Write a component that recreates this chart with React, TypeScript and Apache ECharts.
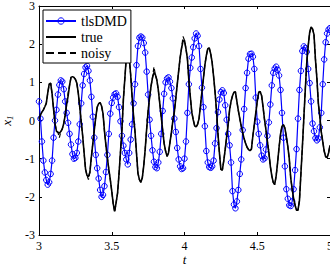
import React, { useEffect, useRef } from "react";
import * as echarts from "echarts";

const T_START = 3;
const T_STEP = 0.01;

const tlsDMD = [
  0.5, 0.05, -0.55, -1.05, -1.36, -1.56, -1.68, -1.62, -1.4, -1.05,
  -0.45, 0.0, 0.28, 0.68, 0.93, 1.05, 1.02, 0.82, 0.5, 0.2,
  -0.06, -0.35, -0.63, -0.88, -1.0, -0.98, -0.85, -0.55, -0.1, 0.45,
  0.92, 1.22, 1.39, 1.43, 1.3, 1.05, 0.62, 0.1, -0.45, -0.9,
  -1.25, -1.52, -1.82, -2.0, -1.95, -1.72, -1.35, -0.9, -0.35, 0.18,
  0.46, 0.6, 0.69, 0.71, 0.62, 0.35, -0.02, -0.4, -0.66, -0.85,
  -1.02, -1.15, -0.85, -0.5, -0.1, 0.45, 0.95, 1.45, 1.95, 2.17,
  2.2, 2.17, 2.03, 1.78, 1.28, 0.68, 0.02, -0.4, -0.78, -1.08,
  -1.22, -1.25, -1.1, -0.82, -0.35, 0.25, 0.7, 1.0, 1.1, 1.13,
  1.02, 0.85, 0.58, 0.05, -0.3, -0.72, -1.02, -1.2, -1.27, -1.25,
  -1.0, -0.55, 0.2, 0.95, 1.38, 1.65, 1.92, 2.15, 2.28, 2.22,
  1.95, 1.35, 0.86, 0.35, -0.15, -0.8, -1.1, -1.22, -1.24, -1.2,
  -1.05, -0.6, -0.2, 0.22, 0.55, 0.74, 0.79, 0.72, 0.4, 0.02,
  -0.35, -0.65, -1.1, -1.85, -2.2, -2.3, -2.12, -1.82, -1.4, -1.02,
  -0.25, 0.3, 0.85, 1.25, 1.62, 1.74, 1.75, 1.67, 1.35, 0.6,
  -0.03, -0.35, -0.65, -0.92, -1.02, -0.99, -0.76, -0.4, -0.05, 0.42,
  0.92, 1.25, 1.36, 1.41, 1.33, 1.18, 0.8, 0.2, -0.45, -1.2,
  -1.8, -2.05, -2.22, -2.24, -2.12, -1.8, -1.3, -0.75, 0.05, 0.8,
  1.3, 1.82, 1.94, 1.9, 1.8, 1.35, 0.98, 0.5, -0.08, -0.28,
  -0.46, -0.52, -0.47, -0.18, 0.2, 0.95, 1.6, 2.05, 2.28, 2.38,
  2.42,
];

const trueVals = [
  0.05, 0.15, 0.22, 0.28, 0.36, 0.45, 0.72, 0.95, 0.98, 0.7,
  0.3, -0.08, -0.28, -0.31, -0.33, -0.29, -0.22, -0.08, 0.14, 0.42,
  0.64, 0.92, 1.13, 1.15, 1.13, 1.08, 0.98, 0.72, 0.35, -0.02,
  -0.4, -0.85, -1.28, -1.44, -1.47, -1.35, -0.95, -0.6, -0.25, 0.08,
  0.35, 0.44, 0.47, 0.38, 0.18, -0.28, -0.65, -0.98, -1.28, -1.55,
  -1.85, -2.18, -2.38, -2.15, -1.9, -1.4, -0.82, -0.25, 0.55, 1.1,
  1.65, 1.91, 1.65, 1.2, 0.62, 0.1, -0.3, -0.85, -1.38, -1.55,
  -1.62, -1.5, -1.18, -0.75, -0.22, 0.25, 0.6, 0.9, 1.12, 1.26,
  1.2, 1.06, 0.8, 0.45, 0.1, -0.25, -0.6, -0.8, -0.94, -0.85,
  -0.58, -0.32, 0.0, 0.22, 0.58, 0.94, 1.3, 1.65, 1.9, 2.08,
  2.1, 1.88, 1.62, 1.05, 0.62, 0.22, 0.02, -0.14, -0.17, -0.1,
  0.05, 0.4, 0.76, 1.1, 1.45, 1.7, 1.88, 1.9, 1.75, 1.52,
  1.15, 0.75, 0.25, -0.35, -0.85, -1.28, -1.3, -1.05, -0.75, -0.42,
  -0.1, 0.28, 0.5, 0.65, 0.74, 0.75, 0.5, 0.26, 0.05, -0.15,
  -0.32, -0.48, -0.6, -0.7, -0.76, -0.79, -0.75, -0.4, -0.1, 0.2,
  0.5, 0.74, 0.76, 0.65, 0.35, 0.02, -0.25, -0.55, -0.85, -1.2,
  -1.45, -1.62, -1.68, -1.45, -1.1, -0.7, -0.36, -0.15, -0.11, -0.2,
  -0.42, -0.68, -1.0, -1.5, -1.8, -2.05, -2.22, -2.35, -2.35, -2.1,
  -1.4, -0.7, 0.05, 0.8, 1.5, 1.95, 2.3, 2.45, 2.4, 2.25,
  1.6, 1.1, 0.45, 0.1, -0.3, -0.55, -0.8, -0.95, -0.97, -0.85,
  -0.65,
];

const noisyVals = [
  0.05, 0.15, 0.22, 0.28, 0.36, 0.45, 0.72, 0.95, 0.98, 0.7,
  0.3, -0.08, -0.28, -0.31, -0.45, -0.29, -0.22, -0.08, 0.14, 0.42,
  0.72, 0.92, 1.13, 1.15, 1.13, 1.08, 0.98, 0.72, 0.35, -0.02,
  -0.4, -0.85, -1.28, -1.44, -1.55, -1.35, -0.95, -0.6, -0.25, 0.08,
  0.35, 0.44, 0.47, 0.38, 0.18, -0.28, -0.65, -0.98, -1.28, -1.55,
  -1.85, -2.18, -2.4, -2.15, -1.9, -1.4, -0.82, -0.25, 0.55, 1.1,
  1.65, 1.91, 1.65, 1.2, 0.62, 0.1, -0.3, -0.85, -1.38, -1.55,
  -1.62, -1.5, -1.18, -0.75, -0.22, 0.25, 0.6, 0.9, 1.12, 1.4,
  1.2, 1.06, 0.8, 0.45, 0.1, -0.25, -0.6, -0.8, -0.94, -0.85,
  -0.58, -0.32, 0.0, 0.22, 0.58, 0.94, 1.3, 1.65, 1.9, 2.2,
  2.1, 1.88, 1.62, 1.05, 0.62, 0.22, 0.02, -0.14, -0.17, -0.1,
  0.05, 0.4, 0.76, 1.1, 1.45, 1.7, 1.88, 1.9, 1.75, 1.52,
  1.15, 0.75, 0.25, -0.35, -0.85, -1.28, -1.3, -1.05, -0.75, -0.42,
  -0.1, 0.28, 0.5, 0.65, 0.74, 0.75, 0.5, 0.26, 0.05, -0.15,
  -0.32, -0.48, -0.6, -0.7, -0.76, -0.79, -0.75, -0.4, -0.1, 0.2,
  0.5, 0.74, 0.76, 0.65, 0.35, 0.02, -0.25, -0.55, -0.85, -1.2,
  -1.45, -1.62, -1.68, -1.45, -1.1, -0.7, -0.36, -0.15, -0.11, -0.2,
  -0.42, -0.68, -1.0, -1.5, -1.8, -2.05, -2.22, -2.35, -2.35, -2.1,
  -1.4, -0.7, 0.05, 0.8, 1.5, 1.95, 2.3, 2.45, 2.4, 2.25,
  1.6, 1.1, 0.45, 0.1, -0.3, -0.55, -0.8, -0.95, -0.97, -0.85,
  -0.65,
];

const xTicks = [3, 3.5, 4, 4.5, 5];
const yTicks = [-3, -2, -1, 0, 1, 2, 3];

const FONT = "'Liberation Serif', 'Times New Roman', serif";

function toPairs(vals: number[]) {
  return vals.map((v, i) => [Number((T_START + i * T_STEP).toFixed(2)), v]);
}

export default function App() {
  const ref = useRef<HTMLDivElement>(null);
  useEffect(() => {
    if (!ref.current) return;
    const chart = echarts.init(ref.current, null, { renderer: "svg" });
    const axisCommon = {
      type: "value" as const,
      axisLine: { show: true, onZero: false, lineStyle: { color: "#000", width: 1 } },
      axisTick: { show: true, inside: true, length: 3, lineStyle: { color: "#000" } },
      splitLine: { show: false },
    };
    const hiddenSymbol = { color: "transparent", borderColor: "transparent", borderWidth: 0 };
    chart.setOption({
      animation: false,
      backgroundColor: "#fff",
      grid: {
        left: 39,
        right: 0,
        top: 6,
        bottom: 34,
        containLabel: false,
        outerBoundsMode: "none",
      },
      legend: {
        left: 43,
        top: 10,
        orient: "vertical",
        itemWidth: 30,
        itemHeight: 8,
        itemGap: 2,
        padding: [4, 4, 3, 2],
        borderColor: "#000",
        borderWidth: 1,
        borderRadius: 0,
        backgroundColor: "#fff",
        textStyle: { fontFamily: FONT, fontSize: 14, color: "#000" },
        data: [
          { name: "tlsDMD", itemStyle: { color: "transparent", borderColor: "#0000ff", borderWidth: 1 } },
          { name: "true", itemStyle: hiddenSymbol },
          { name: "noisy", itemStyle: hiddenSymbol },
        ],
      },
      xAxis: [
        {
          ...axisCommon,
          min: 3,
          max: 5,
          interval: 0.5,
          name: "t",
          nameLocation: "middle",
          nameGap: 18,
          nameMoveOverlap: false,
          nameTextStyle: { fontFamily: FONT, fontSize: 13, fontStyle: "italic", color: "#000" },
          axisLabel: {
            fontFamily: FONT,
            fontSize: 12,
            color: "#000",
            margin: 5,
            formatter: (v: number) => (xTicks.includes(v) ? String(v) : ""),
          },
        },
        {
          ...axisCommon,
          position: "top",
          min: 3,
          max: 5,
          interval: 0.5,
          axisLabel: { show: false },
        },
      ],
      yAxis: [
        {
          ...axisCommon,
          min: -3,
          max: 3,
          interval: 1,
          name: "{i|x}{s|1}",
          nameLocation: "middle",
          nameGap: 25,
          nameMoveOverlap: false,
          nameRotate: 90,
          nameTextStyle: {
            rich: {
              i: { fontFamily: FONT, fontSize: 13, fontStyle: "italic", color: "#000" },
              s: { fontFamily: FONT, fontSize: 9, fontStyle: "italic", color: "#000", padding: [6, 0, 0, 0] },
            },
          },
          axisLabel: {
            fontFamily: FONT,
            fontSize: 12,
            color: "#000",
            margin: 4,
            formatter: (v: number) => (yTicks.includes(v) ? String(v) : ""),
          },
        },
        {
          ...axisCommon,
          position: "right",
          min: -3,
          max: 3,
          interval: 1,
          axisLabel: { show: false },
        },
      ],
      series: [
        {
          name: "tlsDMD",
          type: "line",
          data: toPairs(tlsDMD),
          symbol: "circle",
          symbolSize: 5.5,
          showSymbol: true,
          lineStyle: { color: "#0000ff", width: 1.2 },
          itemStyle: { color: "transparent", borderColor: "#0000ff", borderWidth: 1 },
          emphasis: { disabled: true },
          z: 2,
        },
        {
          name: "true",
          type: "line",
          data: toPairs(trueVals),
          symbol: "none",
          lineStyle: { color: "#000", width: 1.6 },
          itemStyle: { color: "#000" },
          z: 3,
        },
        {
          name: "noisy",
          type: "line",
          data: toPairs(noisyVals),
          symbol: "none",
          lineStyle: { color: "#000", width: 1.2, type: "dashed" },
          itemStyle: { color: "#000" },
          z: 3,
        },
      ],
    });
    return () => chart.dispose();
  }, []);
  return (
    <div
      ref={ref}
      style={{ position: "fixed", left: 0, top: 0, width: 330, height: 269 }}
    />
  );
}
